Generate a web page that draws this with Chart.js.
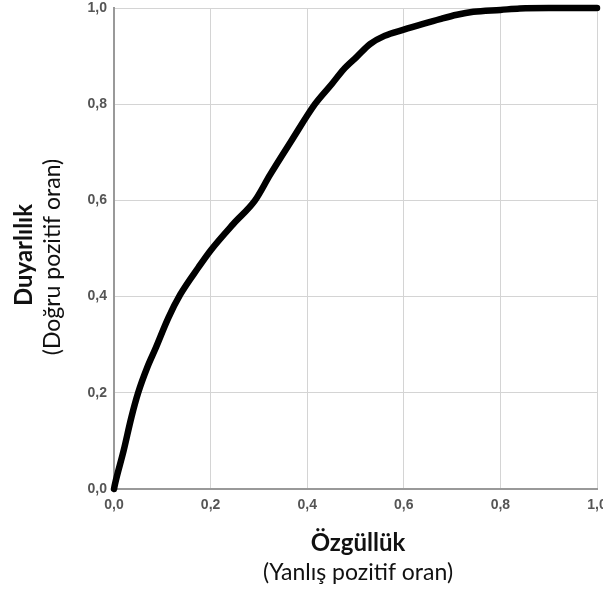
<!DOCTYPE html>
<html>
<head>
<meta charset="utf-8">
<script src="https://cdn.jsdelivr.net/npm/chart.js@4"></script>
<style>
  html, body { margin: 0; padding: 0; background: #fff; overflow: hidden; }
  #wrap { width: 615px; height: 597px; }
</style>
</head>
<body>
<div id="wrap"><canvas id="roc" width="615" height="597"></canvas></div>
<script>
// ROC curve
const fprValues = [0, 0.002, 0.02, 0.036, 0.05, 0.069, 0.085, 0.113, 0.137, 0.175, 0.2, 0.247, 0.292, 0.323,
  0.368, 0.416, 0.451, 0.475, 0.502, 0.53, 0.56, 0.6, 0.64, 0.675, 0.71, 0.744, 0.8, 0.84, 0.9, 1.0];
const tprValues = [0, 0.01, 0.08, 0.149, 0.2, 0.253, 0.29, 0.357, 0.404, 0.461, 0.496, 0.551, 0.6, 0.653,
  0.725, 0.8, 0.842, 0.872, 0.898, 0.925, 0.942, 0.955, 0.967, 0.977, 0.986, 0.992, 0.996, 0.999, 1.0, 1.0];
const tickLabels = ["0,0", "0,2", "0,4", "0,6", "0,8", "1,0"];

const yTitle = ["Duyarlılık", "(Doğru pozitif oran)"];
const xTitle = ["Özgüllük", "(Yanlış pozitif oran)"];

const points = fprValues.map((x, i) => ({ x: x, y: tprValues[i] }));

// axis titles: bold first line, normal second line
const titlePlugin = {
  id: "axisTitles",
  afterDraw(chart) {
    const ctx = chart.ctx;
    ctx.save();
    ctx.fillStyle = "#111";
    ctx.textAlign = "center";
    ctx.textBaseline = "middle";
    const cx = 358;
    ctx.font = "bold 24px Lato";
    ctx.fillText(xTitle[0], cx, 543);
    ctx.font = "23px Lato";
    ctx.fillText(xTitle[1], cx, 573);

    ctx.translate(0, 256);
    ctx.rotate(-Math.PI / 2);
    ctx.font = "bold 24px Lato";
    ctx.fillText(yTitle[0], 1, 24);
    ctx.font = "23px Lato";
    ctx.fillText(yTitle[1], -1, 53);
    ctx.restore();
  }
};

// drop the automatic label padding so the plot area sits where the reference has it
const noAutoPad = s => {
  s.paddingTop = 0; s.paddingBottom = 0; s.paddingLeft = 0; s.paddingRight = 0;
};

new Chart(document.getElementById("roc"), {
  type: "line",
  data: {
    datasets: [{
      data: points,
      borderColor: "#000",
      borderWidth: 6.5,
      pointRadius: 0,
      cubicInterpolationMode: "monotone",
      borderCapStyle: "round",
      borderJoinStyle: "round",
      fill: false,
      clip: 5
    }]
  },
  options: {
    responsive: false,
    animation: false,
    layout: { padding: { top: 8, right: 18, left: 0, bottom: 0 } },
    plugins: { legend: { display: false }, tooltip: { enabled: false } },
    scales: {
      x: {
        type: "linear",
        min: 0, max: 1,
        afterFit: s => { s.height = 108; noAutoPad(s); },
        afterBuildTicks: s => { s.ticks = tickLabels.map((t, i) => ({ value: i * 0.2 })); },
        ticks: {
          padding: 8,
          color: "#555",
          font: { family: "Liberation Sans", size: 14, weight: "bold" },
          callback: (v, i) => tickLabels[i],
          maxRotation: 0
        },
        grid: { color: "#d4d4d4", lineWidth: 1, drawTicks: false },
        border: { color: "#999", width: 2 }
      },
      y: {
        min: 0, max: 1,
        afterFit: s => { s.width = 114; noAutoPad(s); },
        afterBuildTicks: s => { s.ticks = tickLabels.map((t, i) => ({ value: i * 0.2 })); },
        ticks: {
          padding: 7,
          color: "#555",
          font: { family: "Liberation Sans", size: 14, weight: "bold" },
          callback: (v, i) => tickLabels[i]
        },
        grid: { color: "#d4d4d4", lineWidth: 1, drawTicks: false },
        border: { color: "#999", width: 2 }
      }
    }
  },
  plugins: [titlePlugin]
});
</script>
</body>
</html>
